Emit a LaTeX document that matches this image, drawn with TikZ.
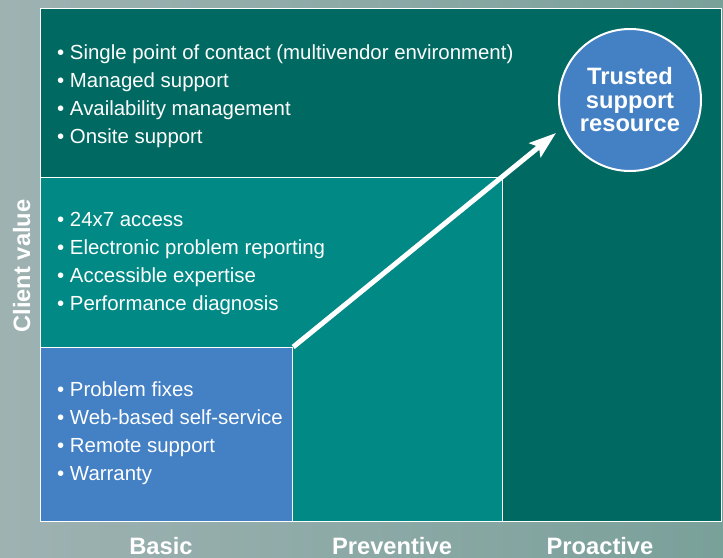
\documentclass[tikz,border=0pt]{standalone}
\usepackage{fontspec}
\setmainfont{Liberation Sans}
\usetikzlibrary{arrows.meta}
\usetikzlibrary{positioning}
\definecolor{bgleft}{RGB}{158,178,178}
\definecolor{bgright}{RGB}{122,160,154}
\definecolor{tealdark}{RGB}{0,106,98}
\definecolor{tealmid}{RGB}{0,137,133}
\definecolor{blueval}{RGB}{67,128,196}

\tikzset{
  level/.style={draw=white, line width=1.2pt, anchor=north west, inner sep=0pt},
  items/.style={text=white, font=\fontsize{20.4}{27.7}\selectfont, align=left, anchor=base west, inner sep=0pt},
  axislabel/.style={text=white, font=\fontsize{23.7}{24}\selectfont\bfseries, inner sep=0pt},
}

\begin{document}
\begin{tikzpicture}[x=1pt, y=-1pt, >=Stealth]

    \useasboundingbox (0,0) rectangle (723,557);
    \shade[left color=bgleft, right color=bgright] (0,0) rectangle (723,557);

    % service levels
    \node[level, fill=tealdark, minimum width=681pt, minimum height=513pt] (proactive) at (40,8) {};
    \node[level, fill=tealmid, minimum width=462pt, minimum height=344pt] (preventive) at (40,177) {};
    \node[level, fill=blueval, minimum width=252pt, minimum height=174pt] (basic) at (40,347) {};

    % anchored at the baseline of the last line
    \node[items] (proitems) at (57,143) {\textbullet\ Single point of contact (multivendor environment)\\ \textbullet\ Managed support\\ \textbullet\ Availability management\\ \textbullet\ Onsite support};
    \node[items] (previtems) at (57,310) {\textbullet\ 24x7 access\\ \textbullet\ Electronic problem reporting\\ \textbullet\ Accessible expertise\\ \textbullet\ Performance diagnosis};
    \node[items] (basicitems) at (57,480) {\textbullet\ Problem fixes\\ \textbullet\ Web-based self-service\\ \textbullet\ Remote support\\ \textbullet\ Warranty};

    \node[circle, draw=white, line width=2pt, fill=blueval, minimum size=142pt, inner sep=0pt, text=white, align=center, font=\fontsize{23.7}{23.5}\selectfont\bfseries] (trusted) at (630,100) {Trusted\\support\\resource};

    \coordinate (tip) at (556,133);
    \draw[-{Stealth[length=27pt, width=18pt, inset=5pt]}, white, line width=5pt] (basic.north east) -- (tip);

    % axes
    \node[axislabel, anchor=base] (lbasic) at (161,554) {Basic};
    \node[axislabel, anchor=base] (lprev) at (392,554) {Preventive};
    \node[axislabel, anchor=base] (lpro) at (600,554) {Proactive};
    \node[axislabel, rotate=90, anchor=base] (clientvalue) at (30,266) {Client value};

\end{tikzpicture}
\end{document}
